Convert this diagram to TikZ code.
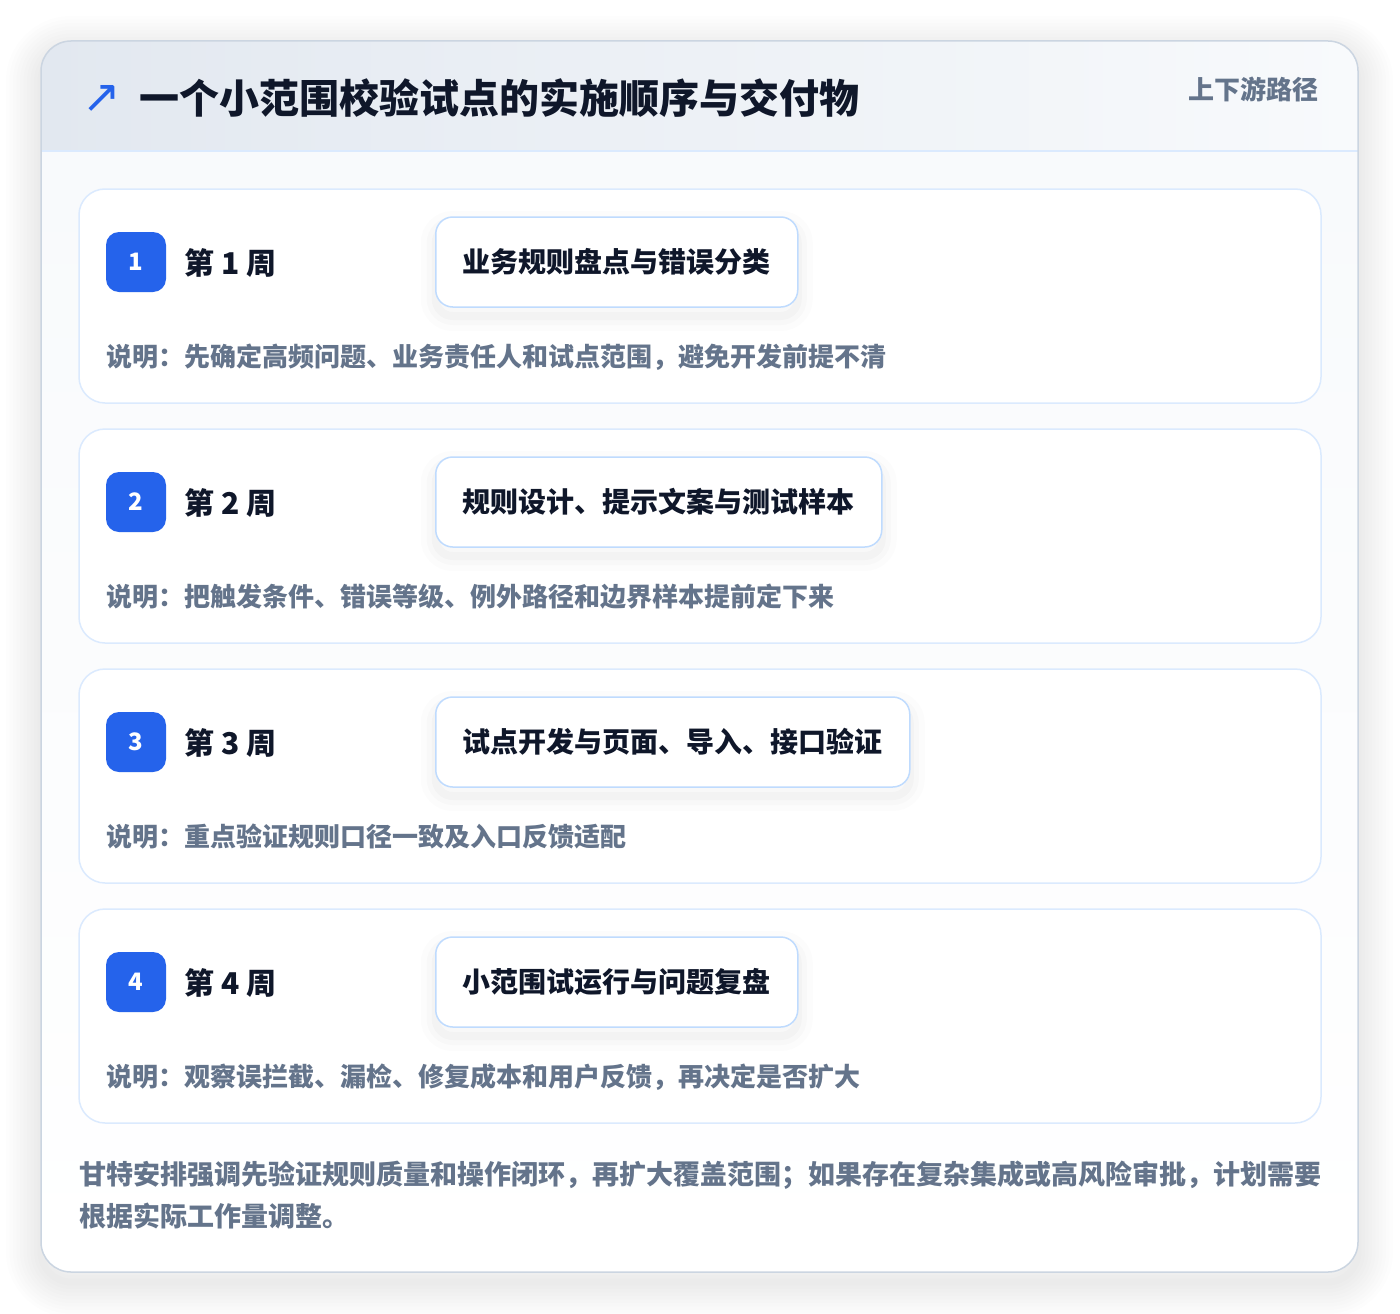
\documentclass[tikz,border=0pt]{standalone}
\usepackage{fontspec}
\setmainfont{Noto Sans CJK SC}
\newfontfamily\symfont{DejaVu Sans}
\definecolor{ink}{HTML}{0F172A}
\definecolor{muted}{HTML}{64748B}
\definecolor{brand}{HTML}{2563EB}
\definecolor{cardline}{HTML}{DBEAFE}
\definecolor{taskline}{HTML}{BFDBFE}
\definecolor{outerline}{HTML}{CBD5E1}
\definecolor{headL}{HTML}{E2E8F0}
\definecolor{headR}{HTML}{F8FAFC}
\definecolor{bodybg}{HTML}{F8FAFC}
\tikzset{
  stepcard/.style={draw=cardline, line width=1.5pt, fill=white, rounded corners=26pt},
  badge/.style={fill=brand, rounded corners=13pt, minimum size=60pt, inner sep=0pt,
    text=white, font=\bfseries\fontsize{24}{24}\selectfont},
  weeklabel/.style={anchor=west, inner sep=0pt, text=ink, font=\bfseries\fontsize{30}{30}\selectfont},
  softshadow/.style={
    preaction={draw=black, draw opacity=0.012, line width=30pt, transform canvas={yshift=-9pt}},
    preaction={draw=black, draw opacity=0.015, line width=18pt, transform canvas={yshift=-9pt}},
    preaction={draw=black, draw opacity=0.018, line width=8pt, transform canvas={yshift=-9pt}}},
  tasknode/.style={draw=taskline, line width=1.5pt, fill=white, rounded corners=17pt,
    minimum height=90pt, inner xsep=27pt, inner ysep=0pt, anchor=west, text=ink,
    font=\bfseries\fontsize{28}{28}\selectfont, softshadow},
  desctext/.style={anchor=west, inner sep=0pt, text=muted, font=\bfseries\fontsize{26}{26}\selectfont},
}
\begin{document}
\begin{tikzpicture}[x=1pt,y=-1pt]
\useasboundingbox (0,0) rectangle (1400,1314);
\fill[white] (0,0) rectangle (1400,1314);
% outer card soft shadow
\foreach \k in {1,...,10}{
  \draw[black, draw opacity=0.008, line width=\k*7pt, rounded corners=30pt]
    (41,51) rectangle (1358,1282);
}
% outer card
\fill[white, rounded corners=30pt] (41,41) rectangle (1358,1272);
\begin{scope}
  \clip[rounded corners=30pt] (41,41) rectangle (1358,1272);
  \shade[top color=bodybg, bottom color=white] (41,151) rectangle (1358,1272);
  \shade[left color=headL, right color=headR] (41,41) rectangle (1358,151);
\end{scope}
\draw[cardline, line width=1.5pt] (41,151) -- (1358,151);
\draw[outerline, line width=1.5pt, rounded corners=30pt] (41,41) rectangle (1358,1272);
% header
\node[text=brand, inner sep=0pt, font=\symfont\fontsize{46}{46}\selectfont] (icon) at (102,99) {↗};
\node[anchor=west, inner sep=0pt, text=ink, font=\bfseries\fontsize{40}{40}\selectfont] (title) at (139,98) {一个小范围校验试点的实施顺序与交付物};
\node[anchor=east, inner sep=0pt, text=muted, font=\bfseries\fontsize{26}{26}\selectfont] (tag) at (1319,89) {上下游路径};
% step cards
\foreach \i/\task/\desc in {
  1/业务规则盘点与错误分类/说明：先确定高频问题、业务责任人和试点范围，避免开发前提不清,
  2/规则设计、提示文案与测试样本/说明：把触发条件、错误等级、例外路径和边界样本提前定下来,
  3/试点开发与页面、导入、接口验证/说明：重点验证规则口径一致及入口反馈适配,
  4/小范围试运行与问题复盘/说明：观察误拦截、漏检、修复成本和用户反馈，再决定是否扩大}{
  \pgfmathsetmacro{\top}{189+(\i-1)*240}
  \draw[stepcard] (79,\top) rectangle (1321,\top+214);
  \node[badge] (badge\i) at (136,\top+73) {\i};
  \node[weeklabel] (week\i) at (184,\top+74) {第 \i{} 周};
  \node[tasknode] (task\i) at (435,\top+73) {\task};
  \node[desctext] (desc\i) at (106,\top+168) {\desc};
}
% footer
\node[anchor=north west, inner sep=0pt, align=left, text=muted,
  font=\bfseries\fontsize{27}{42}\selectfont] (foot) at (79,1161)
  {甘特安排强调先验证规则质量和操作闭环，再扩大覆盖范围；如果存在复杂集成或高风险审批，计划需要\\根据实际工作量调整。};
\end{tikzpicture}
\end{document}
